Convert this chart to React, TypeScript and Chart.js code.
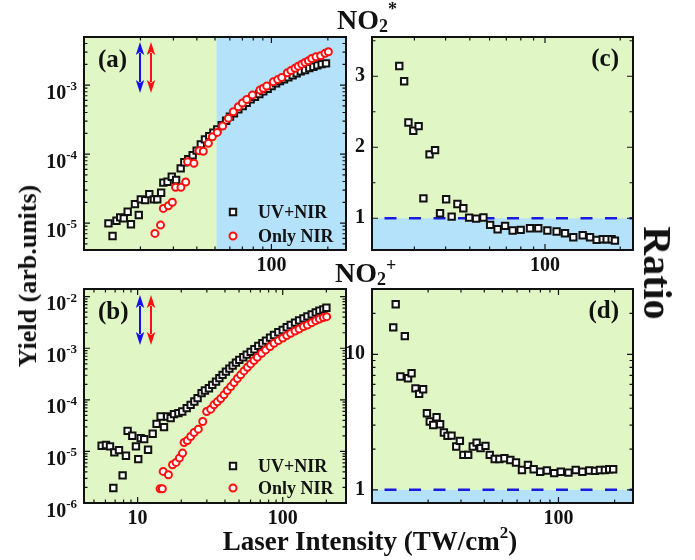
import React, { useEffect, useRef } from "react";
import { Chart, registerables } from "chart.js";

Chart.register(...registerables);

const W = 695;
const H = 560;
const FONT = '"Liberation Serif", "Times New Roman", serif';
const GREEN = "#e0f6c4";
const BLUE = "#b4e2fa";
const INK = "#111111";
const RED = "#ff1010";
const ARROW_BLUE = "#1010f0";
const DASH_BLUE = "#1a1ae0";

// ---------- Panel (a): NO2* yield ----------
const aUvIntensity = [13.5, 14.2, 14.9, 15.6, 16.3, 17.1, 17.8, 18.7, 19.6, 20.1, 21.2, 22.3, 23.6, 24.6, 25.8, 26.5, 27.9, 29.4, 31.0, 32.8, 34.3, 36.0, 38.0, 39.9, 42.0, 44.2, 46.6, 49.0, 51.4, 54.3, 57.3, 60.1, 63.1, 66.6, 70.3, 73.8, 77.5, 81.7, 86.2, 90.5, 95.5, 100.3, 105.9, 111.1, 116.7, 123.1, 129.8, 136.4, 143.3, 151.1, 159.3, 167.5, 175.8, 185.4, 195.5];
const aUvYield = [9.9e-6, 6.5e-6, 1.08e-5, 1.21e-5, 1.17e-5, 1.46e-5, 9.6e-6, 1.88e-5, 1.31e-5, 2.2e-5, 2.15e-5, 2.63e-5, 2.2e-5, 2.2e-5, 2.75e-5, 3.85e-5, 3.97e-5, 4.69e-5, 4.2e-5, 6.2e-5, 7.6e-5, 8.4e-5, 9.6e-5, 1.12e-4, 1.38e-4, 1.63e-4, 1.82e-4, 2.04e-4, 2.28e-4, 2.63e-4, 3.04e-4, 3.48e-4, 3.88e-4, 4.44e-4, 4.97e-4, 5.55e-4, 6.2e-4, 6.78e-4, 7.41e-4, 8.09e-4, 8.85e-4, 9.67e-4, 1.06e-3, 1.14e-3, 1.21e-3, 1.29e-3, 1.38e-3, 1.48e-3, 1.58e-3, 1.65e-3, 1.76e-3, 1.84e-3, 1.93e-3, 2.01e-3, 2.06e-3];
const aNirIntensity = [23.9, 25.6, 26.5, 28.2, 29.6, 30.8, 32.9, 34.9, 35.7, 38.6, 41.1, 43.3, 46.1, 48.4, 51.4, 54.9, 58.9, 62.6, 66.6, 70.0, 73.8, 79.1, 86.9, 90.5, 94.4, 102.4, 108.0, 113.5, 121.6, 127.0, 133.6, 139.0, 145.2, 151.0, 157.4, 164.0, 172.9, 183.2, 193.2, 201.3];
const aNirYield = [7.08e-6, 9.35e-6, 1.63e-5, 1.78e-5, 2.0e-5, 3.29e-5, 3.29e-5, 3.93e-5, 7.74e-5, 7.33e-5, 1.12e-4, 1.10e-4, 1.43e-4, 1.78e-4, 2.06e-4, 2.55e-4, 3.29e-4, 4.11e-4, 4.85e-4, 5.5e-4, 6.2e-4, 7.16e-4, 8.47e-4, 9.0e-4, 9.67e-4, 1.12e-3, 1.2e-3, 1.29e-3, 1.51e-3, 1.62e-3, 1.75e-3, 1.88e-3, 2.01e-3, 2.13e-3, 2.25e-3, 2.43e-3, 2.57e-3, 2.66e-3, 2.88e-3, 3.04e-3];

// ---------- Panel (b): NO2+ yield ----------
const bUvIntensity = [5.65, 6.05, 6.45, 6.91, 6.80, 7.44, 7.88, 8.31, 8.53, 9.19, 9.74, 10.1, 10.5, 11.1, 11.8, 12.7, 13.5, 14.4, 15.2, 16.0, 16.9, 17.8, 19.1, 20.3, 21.8, 23.2, 24.6, 25.9, 27.6, 29.1, 31.0, 32.7, 34.7, 36.6, 38.5, 40.6, 42.9, 45.2, 47.6, 50.2, 53.5, 56.5, 60.1, 63.8, 67.9, 72.4, 76.7, 81.8, 87.1, 93.3, 100, 106.6, 113.5, 121.6, 129.7, 139, 148, 158.5, 169, 179, 190.6, 200];
const bUvYield = [1.29e-5, 1.33e-5, 1.25e-5, 9.6e-6, 1.95e-6, 1.06e-5, 3.43e-6, 8.24e-6, 2.51e-5, 2.01e-5, 1.25e-5, 7.1e-6, 1.81e-5, 1.73e-5, 1.08e-5, 2.2e-5, 3.43e-5, 4.75e-5, 2.96e-5, 4.75e-5, 4.42e-5, 5.28e-5, 5.52e-5, 5.94e-5, 6.9e-5, 8.0e-5, 9.29e-5, 1.08e-4, 1.35e-4, 1.52e-4, 1.68e-4, 1.95e-4, 2.26e-4, 2.63e-4, 3.05e-4, 3.53e-4, 4.04e-4, 4.62e-4, 5.28e-4, 5.94e-4, 6.7e-4, 7.54e-4, 8.49e-4, 9.57e-4, 1.11e-3, 1.25e-3, 1.41e-3, 1.61e-3, 1.81e-3, 2.04e-3, 2.26e-3, 2.55e-3, 2.83e-3, 3.14e-3, 3.48e-3, 3.81e-3, 4.16e-3, 4.55e-3, 4.98e-3, 5.36e-3, 5.69e-3, 6.12e-3];
const bNirIntensity = [14.3, 14.8, 15.0, 16.3, 17.4, 18.4, 19.4, 20.4, 20.9, 22.0, 23.2, 24.5, 26.2, 28.1, 29.9, 31.9, 33.6, 35.4, 37.4, 39.4, 41.5, 43.8, 46.2, 48.7, 51.3, 54.1, 57.1, 60.1, 63.4, 66.8, 71.6, 76.3, 81.8, 87.1, 93.3, 100, 106.6, 113.5, 121.6, 129.7, 139, 148, 158.5, 169, 179, 190.6, 201];
const bNirYield = [1.89e-6, 1.89e-6, 4.1e-6, 3.53e-6, 5.52e-6, 6.12e-6, 7.43e-6, 9.29e-6, 1.49e-5, 1.63e-5, 1.95e-5, 2.33e-5, 2.7e-5, 3.81e-5, 5.94e-5, 6.59e-5, 8.0e-5, 9.15e-5, 1.06e-4, 1.25e-4, 1.52e-4, 1.81e-4, 2.16e-4, 2.59e-4, 3.05e-4, 3.64e-4, 4.29e-4, 4.98e-4, 5.77e-4, 6.7e-4, 8.0e-4, 9.29e-4, 1.08e-3, 1.25e-3, 1.41e-3, 1.58e-3, 1.76e-3, 1.95e-3, 2.16e-3, 2.37e-3, 2.63e-3, 2.83e-3, 3.14e-3, 3.43e-3, 3.7e-3, 3.93e-3, 4.1e-3];

// ---------- Panel (c): NO2* ratio ----------
const cIntensity = [26.1, 27.3, 28.4, 29.7, 31.2, 32.6, 34.5, 36.3, 38.0, 40.2, 42.3, 44.6, 47.1, 49.7, 53.0, 56.7, 60.3, 64.6, 69.2, 74.2, 79.9, 87.1, 94.0, 102.2, 111.3, 120.2, 129.8, 141.5, 151.4, 161.0, 170.2, 176.5, 184.8, 190.5];
const cRatio = [3.145, 2.93, 2.349, 2.232, 2.297, 1.281, 1.899, 1.96, 1.07, 1.267, 1.023, 1.201, 1.141, 1.009, 0.995, 1.01, 0.906, 0.845, 0.892, 0.827, 0.836, 0.859, 0.859, 0.827, 0.813, 0.789, 0.733, 0.761, 0.733, 0.696, 0.705, 0.705, 0.705, 0.686];

// ---------- Panel (d): NO2+ ratio ----------
const dIntensity = [13.4, 13.0, 15.0, 14.2, 15.6, 16.3, 17.1, 17.9, 18.8, 19.7, 20.4, 21.3, 22.2, 23.2, 24.3, 25.4, 26.7, 28.3, 29.6, 30.9, 32.8, 34.7, 36.4, 38.2, 40.6, 42.8, 45.5, 48.2, 51.3, 55.2, 59.2, 63.7, 68.6, 73.6, 79.8, 86.7, 94.8, 102.9, 113.1, 123.7, 134.3, 146.3, 157, 166.8, 177.4, 187.1, 196.5];
const dRatio = [23.4, 15.8, 13.6, 6.85, 6.65, 7.24, 5.61, 5.10, 5.52, 3.67, 3.19, 3.01, 3.43, 3.05, 2.65, 2.50, 2.51, 2.09, 2.30, 1.81, 1.81, 2.09, 2.23, 2.03, 2.11, 1.81, 1.69, 1.69, 1.71, 1.66, 1.59, 1.40, 1.53, 1.42, 1.36, 1.39, 1.33, 1.36, 1.34, 1.40, 1.36, 1.39, 1.38, 1.40, 1.40, 1.42, 1.42];

// ---------- axis ranges and ticks ----------
const aXRange: [number, number] = [10, 250];
const aYRange: [number, number] = [4.07e-6, 4.97e-3];
const bXRange: [number, number] = [4.27, 273];
const bYRange: [number, number] = [1e-6, 1.41e-2];
const cXRange: [number, number] = [20.3, 225];
const cYRange: [number, number] = [0.553, 3.553];
const dXRange: [number, number] = [10, 251];
const dYRange: [number, number] = [0.8, 30.3];

const aXMajor = [100];
const aXMinor = [20, 30, 40, 50, 60, 70, 80, 90, 200];
const aYMajor = [1e-5, 1e-4, 1e-3];
const bXMajor = [10, 100];
const bXMinor = [5, 6, 7, 8, 9, 20, 30, 40, 50, 60, 70, 80, 90, 200];
const bYMajor = [1e-6, 1e-5, 1e-4, 1e-3, 1e-2];
const cXMajor = [100];
const cXMinor = [30, 40, 50, 60, 70, 80, 90, 200];
const cYMajor = [1, 2, 3];
const cYMinor = [1.5, 2.5, 3.5];
const dXMajor = [100];
const dXMinor = [20, 30, 40, 50, 60, 70, 80, 90, 200];
const dYMajor = [1, 10];
const dYMinor = [2, 3, 4, 5, 6, 7, 8, 9, 20];

const aBlueFrom = 51; // blue shading for intensity above this in (a)
const ratioUnity = 1; // dashed reference line in (c), (d)

const SQ_R = 4.5;
const SQ_BW = 2;
const CI_R = 3.5;
const CI_BW = 2;

function logMinors(range: [number, number]): number[] {
  const out: number[] = [];
  const lo = Math.floor(Math.log10(range[0]));
  const hi = Math.ceil(Math.log10(range[1]));
  for (let e = lo; e <= hi; e++) {
    for (let k = 2; k <= 9; k++) {
      const v = k * Math.pow(10, e);
      if (v > range[0] && v < range[1]) out.push(v);
    }
  }
  return out;
}

type Spec = {
  area: { left: number; top: number; right: number; bottom: number };
  xRange: [number, number];
  yRange: [number, number];
  yType: "logarithmic" | "linear";
  xMajor: number[];
  xMinor: number[];
  yMajor: number[];
  yMinor: number[];
  powLabels: boolean;
  blueX?: number;
  blueYBelow?: number;
  dashY?: number;
  label: string;
  labelRight: boolean;
  legend?: { sqDy: number; ciDy: number };
  arrows?: { top: number; bottom: number };
  datasets: any[];
};

const pts = (xs: number[], ys: number[]) => xs.map((x, i) => ({ x, y: ys[i] }));

const squareStyle = {
  pointStyle: "rect",
  pointRadius: SQ_R,
  pointHoverRadius: SQ_R,
  pointBorderWidth: SQ_BW,
  borderWidth: SQ_BW,
  borderColor: INK,
  backgroundColor: "#ffffff",
  showLine: false,
};
const circleStyle = {
  pointStyle: "circle",
  pointRadius: CI_R,
  pointHoverRadius: CI_R,
  pointBorderWidth: CI_BW,
  borderWidth: CI_BW,
  borderColor: RED,
  backgroundColor: "#ffffff",
  showLine: false,
};

const specs: Spec[] = [
  {
    area: { left: 84, top: 37, right: 346, bottom: 250 },
    xRange: aXRange,
    yRange: aYRange,
    yType: "logarithmic",
    xMajor: aXMajor,
    xMinor: aXMinor,
    yMajor: aYMajor,
    yMinor: logMinors(aYRange),
    powLabels: true,
    blueX: aBlueFrom,
    label: "(a)",
    labelRight: false,
    legend: { sqDy: 38, ciDy: 14 },
    arrows: { top: 5, bottom: 56 },
    datasets: [
      { label: "Only NIR", data: pts(aNirIntensity, aNirYield), ...circleStyle },
      { label: "UV+NIR", data: pts(aUvIntensity, aUvYield), ...squareStyle },
    ],
  },
  {
    area: { left: 84, top: 289, right: 346, bottom: 503 },
    xRange: bXRange,
    yRange: bYRange,
    yType: "logarithmic",
    xMajor: bXMajor,
    xMinor: bXMinor,
    yMajor: bYMajor,
    yMinor: logMinors(bYRange),
    powLabels: true,
    label: "(b)",
    labelRight: false,
    legend: { sqDy: 37, ciDy: 15 },
    arrows: { top: 6, bottom: 56 },
    datasets: [
      { label: "Only NIR", data: pts(bNirIntensity, bNirYield), ...circleStyle },
      { label: "UV+NIR", data: pts(bUvIntensity, bUvYield), ...squareStyle },
    ],
  },
  {
    area: { left: 372, top: 37, right: 633, bottom: 250 },
    xRange: cXRange,
    yRange: cYRange,
    yType: "linear",
    xMajor: cXMajor,
    xMinor: cXMinor,
    yMajor: cYMajor,
    yMinor: cYMinor,
    powLabels: false,
    blueYBelow: ratioUnity,
    dashY: ratioUnity,
    label: "(c)",
    labelRight: true,
    datasets: [{ label: "Ratio NO2*", data: pts(cIntensity, cRatio), ...squareStyle }],
  },
  {
    area: { left: 372, top: 289, right: 633, bottom: 503 },
    xRange: dXRange,
    yRange: dYRange,
    yType: "logarithmic",
    xMajor: dXMajor,
    xMinor: dXMinor,
    yMajor: dYMajor,
    yMinor: dYMinor,
    powLabels: false,
    blueYBelow: ratioUnity,
    dashY: ratioUnity,
    label: "(d)",
    labelRight: true,
    datasets: [{ label: "Ratio NO2+", data: pts(dIntensity, dRatio), ...squareStyle }],
  },
];

function drawArrow(ctx: CanvasRenderingContext2D, x: number, y1: number, y2: number, color: string) {
  const hl = 13;
  const hw = 4.2;
  ctx.save();
  ctx.strokeStyle = color;
  ctx.fillStyle = color;
  ctx.lineWidth = 2;
  ctx.beginPath();
  ctx.moveTo(x, y1 + hl - 2);
  ctx.lineTo(x, y2 - hl + 2);
  ctx.stroke();
  ctx.beginPath();
  ctx.moveTo(x, y1);
  ctx.lineTo(x - hw, y1 + hl);
  ctx.lineTo(x, y1 + hl - 3);
  ctx.lineTo(x + hw, y1 + hl);
  ctx.closePath();
  ctx.fill();
  ctx.beginPath();
  ctx.moveTo(x, y2);
  ctx.lineTo(x - hw, y2 - hl);
  ctx.lineTo(x, y2 - hl + 3);
  ctx.lineTo(x + hw, y2 - hl);
  ctx.closePath();
  ctx.fill();
  ctx.restore();
}

function makeDecor(spec: Spec) {
  return {
    id: "panelDecor",
    beforeDatasetsDraw(chart: any) {
      const { ctx, chartArea: ca, scales } = chart;
      const sx = scales.x;
      const sy = scales.y;
      ctx.save();
      ctx.fillStyle = GREEN;
      ctx.fillRect(ca.left, ca.top, ca.width, ca.height);
      ctx.fillStyle = BLUE;
      if (spec.blueX !== undefined) {
        const px = sx.getPixelForValue(spec.blueX);
        ctx.fillRect(px, ca.top, ca.right - px, ca.height);
      }
      if (spec.blueYBelow !== undefined) {
        const py = sy.getPixelForValue(spec.blueYBelow);
        ctx.fillRect(ca.left, py, ca.width, ca.bottom - py);
      }
      if (spec.dashY !== undefined) {
        const py = sy.getPixelForValue(spec.dashY);
        ctx.strokeStyle = DASH_BLUE;
        ctx.lineWidth = 2.5;
        ctx.setLineDash([12, 12.5]);
        ctx.lineDashOffset = 12;
        ctx.beginPath();
        ctx.moveTo(ca.left, py);
        ctx.lineTo(ca.right, py);
        ctx.stroke();
        ctx.setLineDash([]);
      }
      ctx.restore();
    },
    afterDraw(chart: any) {
      const { ctx, chartArea: ca, scales } = chart;
      const sx = scales.x;
      const sy = scales.y;
      ctx.save();
      // ticks on all four sides, pointing inward
      ctx.strokeStyle = INK;
      ctx.lineWidth = 1.2;
      ctx.beginPath();
      const xt = (vals: number[], len: number) =>
        vals.forEach((v) => {
          const p = sx.getPixelForValue(v);
          if (p <= ca.left + 1 || p >= ca.right - 1) return;
          ctx.moveTo(p, ca.bottom);
          ctx.lineTo(p, ca.bottom - len);
          ctx.moveTo(p, ca.top);
          ctx.lineTo(p, ca.top + len);
        });
      const yt = (vals: number[], len: number) =>
        vals.forEach((v) => {
          const p = sy.getPixelForValue(v);
          if (p <= ca.top + 1 || p >= ca.bottom - 1) return;
          ctx.moveTo(ca.left, p);
          ctx.lineTo(ca.left + len, p);
          ctx.moveTo(ca.right, p);
          ctx.lineTo(ca.right - len, p);
        });
      xt(spec.xMajor, 6);
      xt(spec.xMinor, 3.5);
      yt(spec.yMajor, 6);
      yt(spec.yMinor, 3.5);
      ctx.stroke();
      ctx.lineWidth = 2;
      ctx.strokeRect(ca.left, ca.top, ca.width, ca.height);

      // power-of-ten tick labels
      if (spec.powLabels) {
        ctx.fillStyle = INK;
        ctx.textBaseline = "alphabetic";
        spec.yMajor.forEach((v) => {
          const p = sy.getPixelForValue(v);
          const sup = String(Math.round(Math.log10(v)));
          const right = ca.left - 7;
          ctx.font = `bold 13px ${FONT}`;
          const sw = ctx.measureText(sup).width;
          ctx.textAlign = "left";
          ctx.fillText(sup, right - sw, p + 5);
          ctx.font = `bold 20px ${FONT}`;
          ctx.textAlign = "right";
          ctx.fillText("10", right - sw, p + 13.5);
        });
      }

      // panel label
      ctx.fillStyle = INK;
      ctx.font = `bold 25px ${FONT}`;
      ctx.textBaseline = "middle";
      if (spec.labelRight) {
        ctx.textAlign = "right";
        ctx.fillText(spec.label, ca.right - 14, ca.top + 23);
      } else {
        ctx.textAlign = "left";
        ctx.fillText(spec.label, ca.left + 14, ca.top + 24);
      }

      // arrows
      if (spec.arrows) {
        drawArrow(ctx, ca.left + 56, ca.top + spec.arrows.top, ca.top + spec.arrows.bottom, ARROW_BLUE);
        drawArrow(ctx, ca.left + 67, ca.top + spec.arrows.top, ca.top + spec.arrows.bottom, RED);
      }

      // legend
      if (spec.legend) {
        const lx = ca.right - 113;
        const sqY = ca.bottom - spec.legend.sqDy;
        const ciY = ca.bottom - spec.legend.ciDy;
        const half = SQ_R * Math.SQRT1_2;
        ctx.fillStyle = "#ffffff";
        ctx.strokeStyle = INK;
        ctx.lineWidth = SQ_BW;
        ctx.beginPath();
        ctx.rect(lx - half, sqY - half, 2 * half, 2 * half);
        ctx.fill();
        ctx.stroke();
        ctx.strokeStyle = RED;
        ctx.lineWidth = CI_BW;
        ctx.beginPath();
        ctx.arc(lx, ciY, CI_R, 0, Math.PI * 2);
        ctx.fill();
        ctx.stroke();
        ctx.fillStyle = INK;
        ctx.font = `bold 18px ${FONT}`;
        ctx.textAlign = "left";
        ctx.textBaseline = "middle";
        ctx.fillText("UV+NIR", lx + 25, sqY + 1);
        ctx.fillText("Only NIR", lx + 25, ciY + 1);
      }
      ctx.restore();
    },
  };
}

function buildConfig(spec: Spec): any {
  const { area } = spec;
  const yW = 40;
  const xH = 30;
  const tickFont = { family: FONT, size: 20, weight: "bold" as const };
  return {
    type: "scatter",
    data: { datasets: spec.datasets },
    options: {
      responsive: false,
      maintainAspectRatio: false,
      animation: false,
      devicePixelRatio: 1,
      events: [],
      layout: {
        padding: {
          left: area.left - yW,
          top: area.top,
          right: W - area.right,
          bottom: H - area.bottom - xH,
        },
      },
      plugins: { legend: { display: false }, tooltip: { enabled: false } },
      scales: {
        x: {
          type: "logarithmic",
          position: "bottom",
          min: spec.xRange[0],
          max: spec.xRange[1],
          bounds: "data",
          grid: { display: false, drawTicks: false },
          border: { display: false },
          ticks: {
            font: tickFont,
            color: INK,
            padding: 4,
            maxRotation: 0,
            autoSkip: false,
            callback: (v: any) => String(v),
          },
          afterBuildTicks: (s: any) => {
            s.ticks = spec.xMajor.map((v) => ({ value: v }));
          },
          afterFit: (s: any) => {
            s.height = xH;
          },
        },
        y: {
          type: spec.yType,
          position: "left",
          min: spec.yRange[0],
          max: spec.yRange[1],
          bounds: "data",
          grid: { display: false, drawTicks: false },
          border: { display: false },
          ticks: {
            display: !spec.powLabels,
            font: tickFont,
            color: INK,
            padding: 7,
            autoSkip: false,
            callback: (v: any) => String(v),
          },
          afterBuildTicks: (s: any) => {
            s.ticks = spec.yMajor.map((v) => ({ value: v }));
          },
          afterFit: (s: any) => {
            s.width = yW;
          },
        },
      },
    },
    plugins: [makeDecor(spec)],
  };
}

function Panel({ spec }: { spec: Spec }) {
  const ref = useRef<HTMLCanvasElement | null>(null);
  useEffect(() => {
    if (!ref.current) return;
    const chart = new Chart(ref.current, buildConfig(spec));
    return () => chart.destroy();
  }, [spec]);
  return (
    <canvas
      ref={ref}
      width={W}
      height={H}
      style={{ position: "absolute", left: 0, top: 0, width: W, height: H }}
    />
  );
}

const textBase: React.CSSProperties = {
  position: "absolute",
  fontFamily: FONT,
  fontWeight: "bold",
  color: INK,
  whiteSpace: "nowrap",
  lineHeight: 1,
  pointerEvents: "none",
};

export default function App() {
  return (
    <div
      style={{
        position: "fixed",
        left: 0,
        top: 0,
        width: W,
        height: H,
        background: "#ffffff",
        overflow: "hidden",
      }}
    >
      {specs.map((s, i) => (
        <Panel key={i} spec={s} />
      ))}
      <div style={{ ...textBase, left: 337, top: 6, fontSize: 28 }}>
        NO
        <span style={{ fontSize: 18, position: "relative", top: 3 }}>2</span>
        <span style={{ fontSize: 18, position: "relative", top: -14 }}>*</span>
      </div>
      <div style={{ ...textBase, left: 335, top: 258.5, fontSize: 28 }}>
        NO
        <span style={{ fontSize: 18, position: "relative", top: 3 }}>2</span>
        <span style={{ fontSize: 18, position: "relative", top: -11 }}>+</span>
      </div>
      <div
        style={{
          ...textBase,
          fontSize: 26,
          left: 27.5,
          top: 275.5,
          transform: "translate(-50%, -50%) rotate(-90deg)",
        }}
      >
        Yield (arb.units)
      </div>
      <div
        style={{
          ...textBase,
          fontSize: 27,
          left: 370,
          top: 541,
          transform: "translate(-50%, -50%)",
        }}
      >
        Laser Intensity (TW/cm
        <span style={{ fontSize: 17, position: "relative", top: -12 }}>2</span>)
      </div>
      <div
        style={{
          ...textBase,
          fontSize: 40,
          left: 657,
          top: 273,
          transform: "translate(-50%, -50%) rotate(90deg)",
        }}
      >
        Ratio
      </div>
    </div>
  );
}
